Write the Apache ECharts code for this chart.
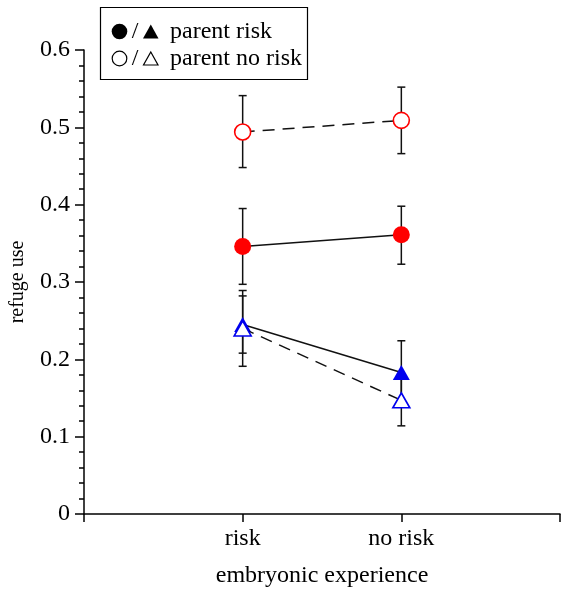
<!DOCTYPE html>
<html>
<head>
<meta charset="utf-8">
<script src="https://cdn.jsdelivr.net/npm/echarts@6/dist/echarts.min.js"></script>
<style>html,body{margin:0;padding:0;background:#fff}#c{width:563px;height:593px}</style>
</head>
<body>
<div id="c"></div>
<script>
// categories (embryonic experience)
const categories = ['risk', 'no risk'];
const yTicks = [0, 0.1, 0.2, 0.3, 0.4, 0.5, 0.6];

// parent risk, red circles (filled)
const redFilledMean = [0.346, 0.361];
const redFilledLow  = [0.297, 0.323];
const redFilledHigh = [0.395, 0.398];
// parent no risk, red circles (open)
const redOpenMean = [0.494, 0.509];
const redOpenLow  = [0.448, 0.466];
const redOpenHigh = [0.541, 0.552];
// parent risk, blue triangles (filled)
const blueFilledMean = [0.245, 0.183];
const blueFilledLow  = [0.208, 0.140];
const blueFilledHigh = [0.282, 0.224];
// parent no risk, blue triangles (open)
const blueOpenMean = [0.240, 0.147];
const blueOpenLow  = [0.191, 0.114];
const blueOpenHigh = [0.289, 0.178];

const FONT = 'Liberation Serif';
const RED = '#ff0000';
const BLUE = '#0000ee';

function pts(mean) { return mean.map((v, i) => [i + 1, v]); }
function errData(low, high) { return low.map((l, i) => [i + 1, l, high[i]]); }

function errSeries(low, high) {
  return {
    type: 'custom',
    z: 1,
    silent: true,
    data: errData(low, high),
    encode: { x: 0, y: [1, 2] },
    renderItem: function (params, api) {
      const x = api.value(0);
      const lo = api.coord([x, api.value(1)]);
      const hi = api.coord([x, api.value(2)]);
      const w = 4;
      const st = { stroke: '#111', lineWidth: 1.5 };
      return {
        type: 'group',
        children: [
          { type: 'line', shape: { x1: lo[0], y1: lo[1], x2: hi[0], y2: hi[1] }, style: st },
          { type: 'line', shape: { x1: lo[0] - w, y1: lo[1], x2: lo[0] + w, y2: lo[1] }, style: st },
          { type: 'line', shape: { x1: hi[0] - w, y1: hi[1], x2: hi[0] + w, y2: hi[1] }, style: st }
        ]
      };
    }
  };
}

function lineSeries(mean, symbol, size, color, filled, dashed, z) {
  return {
    type: 'line',
    z: z,
    data: pts(mean),
    symbol: symbol,
    symbolSize: size,
    showAllSymbol: true,
    lineStyle: { color: '#111', width: 1.5, type: dashed ? [12, 8] : 'solid' },
    itemStyle: {
      color: filled ? color : '#ffffff',
      borderColor: color,
      borderWidth: filled ? 0 : 1.6
    },
    emphasis: { disabled: true },
    animation: false
  };
}

const chart = echarts.init(document.getElementById('c'), null, { renderer: 'canvas' });
chart.setOption({
  animation: false,
  backgroundColor: '#fff',
  grid: { left: 84, right: 1, top: 50, bottom: 73, containLabel: false },
  xAxis: {
    type: 'value',
    min: 0, max: 3, interval: 1,
    name: 'embryonic experience',
    nameLocation: 'middle',
    nameGap: 50,
    nameTextStyle: { fontFamily: FONT, fontSize: 24, color: '#000' },
    axisLine: { show: true, onZero: false, lineStyle: { color: '#000', width: 1.5 } },
    axisTick: { show: true, inside: false, length: 8, lineStyle: { color: '#000', width: 1.5 } },
    axisLabel: {
      show: true, margin: 13, fontFamily: FONT, fontSize: 24, color: '#000',
      showMinLabel: true, showMaxLabel: true,
      formatter: function (v) { return categories[v - 1] || ''; }
    },
    splitLine: { show: false }
  },
  yAxis: {
    type: 'value',
    min: yTicks[0], max: yTicks[yTicks.length - 1], interval: 0.1,
    name: 'refuge use',
    nameLocation: 'middle',
    nameGap: 56,
    nameRotate: 90,
    nameTextStyle: { fontFamily: FONT, fontSize: 20, color: '#000' },
    axisLine: { show: true, lineStyle: { color: '#000', width: 1.5 } },
    axisTick: { show: true, inside: false, length: 9, lineStyle: { color: '#000', width: 1.5 } },
    minorTick: { show: true, splitNumber: 5, length: 5, lineStyle: { color: '#000', width: 1.5 } },
    axisLabel: {
      margin: 14, fontFamily: FONT, fontSize: 24, color: '#000',
      formatter: function (v) { return v === 0 ? '0' : v.toFixed(1); }
    },
    splitLine: { show: false },
    minorSplitLine: { show: false }
  },
  series: [
    errSeries(redOpenLow, redOpenHigh),
    errSeries(redFilledLow, redFilledHigh),
    errSeries(blueFilledLow, blueFilledHigh),
    errSeries(blueOpenLow, blueOpenHigh),
    lineSeries(redOpenMean, 'circle', 16, RED, false, true, 3),
    lineSeries(redFilledMean, 'circle', 17, RED, true, false, 3),
    lineSeries(blueFilledMean, 'triangle', [17, 15], BLUE, true, false, 3),
    lineSeries(blueOpenMean, 'triangle', [17, 15], BLUE, false, true, 4)
  ],
  graphic: [
    { type: 'rect', shape: { x: 100.5, y: 7.5, width: 207, height: 72 }, style: { fill: '#fff', stroke: '#000', lineWidth: 1.2 }, z: 10 },
    { type: 'circle', shape: { cx: 119.5, cy: 31.5, r: 7.8 }, style: { fill: '#000' }, z: 11 },
    { type: 'text', x: 135, y: 31.5, style: { text: '/', font: '24px "Liberation Serif"', fill: '#000', align: 'center', verticalAlign: 'middle' }, z: 11 },
    { type: 'polygon', shape: { points: [[150.8, 24.5], [158.5, 38.5], [143, 38.5]] }, style: { fill: '#000' }, z: 11 },
    { type: 'text', x: 170, y: 31.5, style: { text: 'parent risk', font: '24px "Liberation Serif"', fill: '#000', align: 'left', verticalAlign: 'middle' }, z: 11 },
    { type: 'circle', shape: { cx: 119.5, cy: 58.5, r: 7.3 }, style: { fill: '#fff', stroke: '#000', lineWidth: 1.2 }, z: 11 },
    { type: 'text', x: 135, y: 58.5, style: { text: '/', font: '24px "Liberation Serif"', fill: '#000', align: 'center', verticalAlign: 'middle' }, z: 11 },
    { type: 'polygon', shape: { points: [[150.8, 52], [158, 65], [143.5, 65]] }, style: { fill: '#fff', stroke: '#000', lineWidth: 1.2 }, z: 11 },
    { type: 'text', x: 170, y: 58.5, style: { text: 'parent no risk', font: '24px "Liberation Serif"', fill: '#000', align: 'left', verticalAlign: 'middle' }, z: 11 }
  ]
});
</script>
</body>
</html>
